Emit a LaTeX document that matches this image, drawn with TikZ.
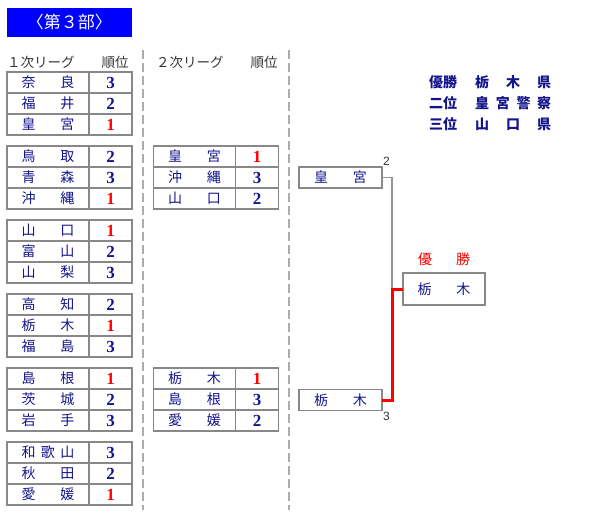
\documentclass[tikz,border=0pt]{standalone}
\usepackage{fontspec}
\usepackage{xcolor}
\setmainfont{Noto Sans CJK JP}
\newfontfamily\numfont{Liberation Serif}
\newfontfamily\seedfont{Liberation Sans}
\usepackage{tikz}
\usetikzlibrary{positioning}

\definecolor{navy}{RGB}{20,20,140}
\definecolor{framegray}{RGB}{136,136,136}
\definecolor{headblue}{RGB}{0,0,255}

\begin{document}
\begin{tikzpicture}[x=1pt, y=-1pt, node distance=0pt]
        \tikzstyle{namecell} = [rectangle, draw=framegray, line width=1.5pt, outer sep=0pt, inner sep=0pt, minimum width=82pt, minimum height=21pt, text=navy, font=\fontsize{14}{14}\selectfont]
        \tikzstyle{rankcell} = [rectangle, draw=framegray, line width=1.5pt, outer sep=0pt, inner sep=0pt, minimum width=43pt, minimum height=21pt, font=\numfont\bfseries\fontsize{17}{17}\selectfont]
        \tikzstyle{heading} = [anchor=west, inner sep=0pt, text=black!80, font=\fontsize{13.5}{13.5}\selectfont]
        \tikzstyle{divider} = [framegray!70, line width=2.5pt, dash pattern=on 9pt off 4pt]
        \tikzstyle{seed} = [inner sep=1pt, text=black!80, font=\seedfont\fontsize{12}{12}\selectfont]
        \tikzstyle{result} = [anchor=west, inner sep=0pt, text=navy, font=\bfseries\fontsize{14}{14}\selectfont]

        \useasboundingbox (0,0) rectangle (600,520);

        % title and headings
        \node (title) [fill=headblue, minimum width=125pt, minimum height=29pt, inner sep=0pt, text=white, font=\fontsize{17}{17}\selectfont] at (69.5,22.5) {〈第３部〉};
        \node (head1) [heading] at (7,62) {１次リーグ　　順位};
        \node (head2) [heading] at (156,62) {２次リーグ　　順位};

        \draw [divider] (143,50) -- (143,510);
        \draw [divider] (289,50) -- (289,510);

        % first round
        \foreach \nm/\rk/\cl [count=\i from 0] in {奈\hfill{}良/3/navy, 福\hfill{}井/2/navy, 皇\hfill{}宮/1/red,
                鳥\hfill{}取/2/navy, 青\hfill{}森/3/navy, 沖\hfill{}縄/1/red,
                山\hfill{}口/1/red, 富\hfill{}山/2/navy, 山\hfill{}梨/3/navy,
                高\hfill{}知/2/navy, 栃\hfill{}木/1/red, 福\hfill{}島/3/navy,
                島\hfill{}根/1/red, 茨\hfill{}城/2/navy, 岩\hfill{}手/3/navy,
                和\hfill{}歌\hfill{}山/3/navy, 秋\hfill{}田/2/navy, 愛\hfill{}媛/1/red} {
            \pgfmathtruncatemacro\grp{\i/3}
            \pgfmathsetmacro\yy{82.5+74*\grp+21*(\i-3*\grp)}
            \node (a\i) [namecell] at (48,\yy) {\makebox[53pt][s]{\nm}};
            \node (ar\i) [rankcell, right=of a\i, text=\cl] {\rk};
        }

        % second round
        \foreach \nm/\rk/\cl [count=\i from 0] in {皇\hfill{}宮/1/red, 沖\hfill{}縄/3/navy, 山\hfill{}口/2/navy,
                栃\hfill{}木/1/red, 島\hfill{}根/3/navy, 愛\hfill{}媛/2/navy} {
            \pgfmathtruncatemacro\grp{\i/3}
            \pgfmathsetmacro\yy{156.5+222*\grp+21*(\i-3*\grp)}
            \node (b\i) [namecell] at (194.5,\yy) {\makebox[53pt][s]{\nm}};
            \node (br\i) [rankcell, right=of b\i, text=\cl] {\rk};
        }

        % final
        \node (semi1) [namecell, minimum width=83pt] at (340.5,177.5) {\makebox[53pt][s]{皇\hfill{}宮}};
        \node (semi2) [namecell, minimum width=83pt] at (340.5,400) {\makebox[53pt][s]{栃\hfill{}木}};
        \node (champ) [namecell, minimum height=32pt] at (444,289) {\makebox[53pt][s]{栃\hfill{}木}};
        \node (winlbl) [above=4pt of champ, text=red, font=\fontsize{14}{14}\selectfont] {\makebox[52pt][s]{優\hfill{}勝}};
        \node (score1) [seed, anchor=south west] at (semi1.north east) {2};
        \node (score2) [seed, anchor=north west] at (semi2.south east) {3};
        \coordinate (join) at (392,289);

        \draw [framegray!90, line width=1.5pt] (semi1.east) -| (join);
        \draw [red, line width=3pt] (semi2.east) -| (join) -- (champ.west);

        % results
        \node (res1) [result] at (429,82) {優勝\hspace{18pt}\makebox[76pt][s]{栃\hfill{}木\hfill{}県}};
        \node (res2) [result] at (429,103) {二位\hspace{18pt}\makebox[76pt][s]{皇\hfill{}宮\hfill{}警\hfill{}察}};
        \node (res3) [result] at (429,124) {三位\hspace{18pt}\makebox[76pt][s]{山\hfill{}口\hfill{}県}};
\end{tikzpicture}
\end{document}
